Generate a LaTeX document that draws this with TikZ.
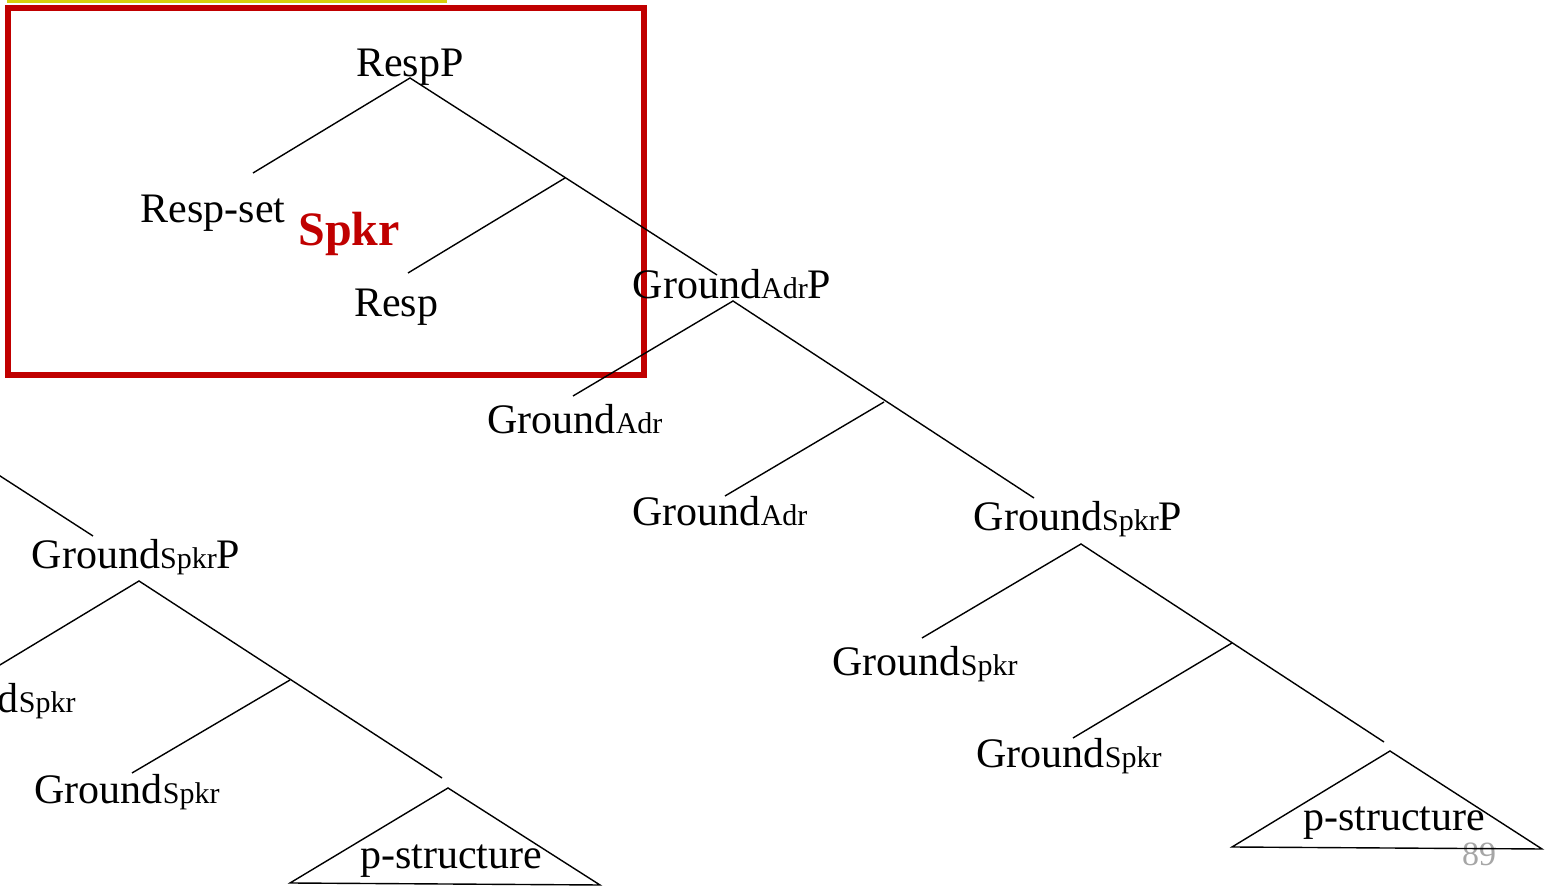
\documentclass[tikz,border=0pt]{standalone}
\usepackage{fontspec}
\setmainfont{Liberation Serif}
\definecolor{boxred}{RGB}{192,0,0}
\definecolor{baryellow}{RGB}{214,208,12}
\newcommand{\smallsub}[1]{{\fontsize{15}{15}\selectfont #1}}
\tikzset{
  lbl/.style={anchor=base,inner sep=0pt,font=\fontsize{21}{25}\selectfont},
  edge/.style={line width=0.7pt}
}
\begin{document}
\begin{tikzpicture}[x=0.5pt,y=-0.5pt]
  \useasboundingbox (0,0) rectangle (1549,886);
  \clip (0,0) rectangle (1549,886);
  \fill[baryellow] (7,0) rectangle (447,3);
  \draw[boxred,line width=3pt] (8,8) rectangle (644,375);
  % branch points
  \coordinate (rA) at (410,78);  \coordinate (rL) at (253,173);  \coordinate (rM) at (565,178);
  \coordinate (rR) at (717,275); \coordinate (rML) at (408,273);
  \coordinate (aA) at (733,301); \coordinate (aL) at (573,396);  \coordinate (aM) at (884,402);
  \coordinate (aR) at (1034,498); \coordinate (aML) at (725,496);
  \coordinate (sA) at (1081,544); \coordinate (sL) at (922,638); \coordinate (sM) at (1232,643);
  \coordinate (sR) at (1384,742); \coordinate (sML) at (1073,738);
  \coordinate (tA) at (1390,751); \coordinate (tL) at (1232,847); \coordinate (tR) at (1542,849);
  \coordinate (lUp) at (-20,463); \coordinate (lUpEnd) at (93,536);
  \coordinate (lA) at (139,581); \coordinate (lL) at (-20,677); \coordinate (lM) at (290,680);
  \coordinate (lR) at (442,778); \coordinate (lML) at (132,773);
  \coordinate (ltA) at (448,788); \coordinate (ltL) at (290,883); \coordinate (ltR) at (600,885);
  % labels
  \node[lbl] (respp) at (410,77) {RespP};
  \node[lbl] (respset) at (213,223) {Resp-set};
  \node[lbl] (resp) at (396,317) {Resp};
  \node[anchor=base west,inner sep=0pt,text=boxred,font=\fontsize{24}{28}\selectfont\bfseries] (spkr) at (298,246) {Spkr};
  \node[lbl] (gadrp) at (732,299) {Ground\smallsub{Adr}P};
  \node[lbl] (gadr1) at (575,434) {Ground\smallsub{Adr}};
  \node[lbl] (gadr2) at (720,526) {Ground\smallsub{Adr}};
  \node[lbl] (gspkrp) at (1078,531) {Ground\smallsub{Spkr}P};
  \node[lbl] (gspkr1) at (925,676) {Ground\smallsub{Spkr}};
  \node[lbl] (gspkr2) at (1069,768) {Ground\smallsub{Spkr}};
  \node[lbl] (pstruct) at (1394,831) {p-structure};
  \node[lbl] (lgspkrp) at (136,569) {Ground\smallsub{Spkr}P};
  \node[lbl] (lgspkr1) at (-17,713) {Ground\smallsub{Spkr}};
  \node[lbl] (lgspkr2) at (127,804) {Ground\smallsub{Spkr}};
  \node[lbl] (lpstruct) at (451,869) {p-structure};
  \node[anchor=base,inner sep=0pt,text=black!35,font=\fontsize{17}{19}\selectfont] (pagenum) at (1479,866) {89};
  % branches
  \draw[edge] (rL) -- (rA) -- (rR);  \draw[edge] (rM) -- (rML);
  \draw[edge] (aL) -- (aA) -- (aR);  \draw[edge] (aM) -- (aML);
  \draw[edge] (sL) -- (sA) -- (sR);  \draw[edge] (sM) -- (sML);
  \draw[edge] (tA) -- (tL) -- (tR) -- cycle;
  \draw[edge] (lUp) -- (lUpEnd);
  \draw[edge] (lL) -- (lA) -- (lR);  \draw[edge] (lM) -- (lML);
  \draw[edge] (ltA) -- (ltL) -- (ltR) -- cycle;
\end{tikzpicture}
\end{document}
